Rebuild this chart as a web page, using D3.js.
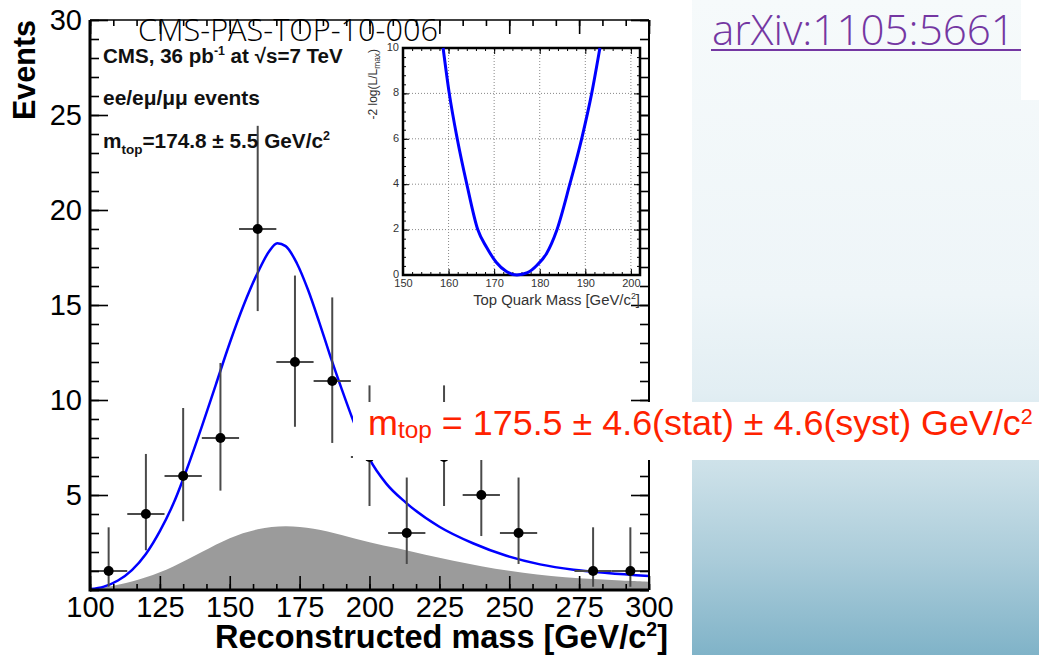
<!DOCTYPE html>
<html><head><meta charset="utf-8">
<script src="https://cdn.jsdelivr.net/npm/d3@7"></script>
<style>body{margin:0;background:#fff}svg{display:block}</style>
</head><body><svg id="c" width="1039" height="655"></svg>
<script>
// ---------- data ----------
const binCenters = [106.67,120,133.33,146.67,160,173.33,186.67,200,213.33,226.67,240,253.33,266.67,280,293.33];
const binWidth = 13.33;
const counts  = [1,4,6,8,19,12,11,7,3,7,5,3,0,1,1];
const errLow  = [0.83,1.91,2.38,2.77,4.32,3.41,3.26,2.58,1.63,2.58,2.16,1.63,0,0.83,0.83];
const errHigh = [2.30,3.16,3.58,3.95,5.43,4.55,4.40,3.77,2.92,3.77,3.38,2.92,0,2.30,2.30];

const fitMass   = [100,105,110,115,120,125,130,135,140,145,150,155,160,164,167,170,174,178,182,186,190,195,200,206,213,225,237,249,261,273,285,300];
const fitEvents = [0.05,0.18,0.5,1.05,1.9,3.1,4.6,6.5,8.6,10.8,13.0,15.0,16.7,17.8,18.25,18.1,17.2,15.8,14.1,12.3,10.6,8.6,6.9,5.6,4.6,3.33,2.46,1.8,1.35,1.07,0.9,0.74];

const bkgMass   = [100,110,120,130,140,150,160,170,180,190,200,210,220,230,240,250,260,270,280,290,300];
const bkgEvents = [0,0.25,0.63,1.22,2.0,2.78,3.25,3.4,3.26,2.9,2.5,2.2,1.85,1.53,1.25,1.0,0.81,0.67,0.57,0.5,0.44];

const scanMass = [158.8,160.15,161.9,164.0,166.4,168.4,170.5,172.7,175.0,177.3,179.5,181.5,183.7,186.6,189.2,191.4,193.2];
const scanNLL  = [10,8,6,4,2,1.2,0.55,0.15,0,0.1,0.45,0.95,1.95,4,6,8,10];

const xTicksMain = [100,125,150,175,200,225,250,275,300];
const yTicksMain = [5,10,15,20,25,30];
const xTicksInset = [150,160,170,180,190,200];
const yTicksInset = [0,2,4,6,8,10];

// ---------- setup ----------
const svg = d3.select("#c");
const defs = svg.append("defs");
const grad = defs.append("linearGradient").attr("id","bg").attr("x1",0).attr("y1",0).attr("x2",0).attr("y2",1);
[[0,"#f6fafb"],[0.45,"#eef5f8"],[0.6,"#e2eef3"],[0.72,"#cbe0e8"],[0.86,"#a9cbd9"],[1,"#80b3c8"]]
  .forEach(s=>grad.append("stop").attr("offset",s[0]).attr("stop-color",s[1]));

svg.append("rect").attr("width",1039).attr("height",655).attr("fill","#fff");
svg.append("rect").attr("x",692).attr("y",0).attr("width",347).attr("height",655).attr("fill","url(#bg)");
svg.append("rect").attr("x",1021).attr("y",0).attr("width",18).attr("height",100).attr("fill","#fff");

const FONT = "'Liberation Sans', Arial, Helvetica, sans-serif";
function fitWidth(t, w){ const cur = t.node().getComputedTextLength(); const fs = parseFloat(t.attr("font-size")); t.attr("font-size", fs*w/cur); }

// ---------- main plot ----------
const x = d3.scaleLinear().domain([100,300]).range([90,649]);
const y = d3.scaleLinear().domain([0,30]).range([590,20]);
const g = svg.append("g");

g.append("path")
  .datum(bkgMass.map((m,i)=>[m,bkgEvents[i]]))
  .attr("d", d3.area().x(d=>x(d[0])).y0(y(0)).y1(d=>y(d[1])).curve(d3.curveBasis))
  .attr("fill","#9b9b9b");

g.append("path")
  .datum(fitMass.map((m,i)=>[m,fitEvents[i]]))
  .attr("d", d3.line().x(d=>x(d[0])).y(d=>y(d[1])).curve(d3.curveMonotoneX))
  .attr("fill","none").attr("stroke","#0000ff").attr("stroke-width",2.5);

const pts = binCenters.map((c,i)=>({c, n:counts[i], lo:errLow[i], hi:errHigh[i]})).filter(d=>d.n>0);
const pg = g.append("g");
pg.selectAll("line.v").data(pts).join("line")
  .attr("x1",d=>x(d.c)).attr("x2",d=>x(d.c))
  .attr("y1",d=>y(d.n-d.lo)).attr("y2",d=>y(d.n+d.hi))
  .attr("stroke","#4a4a4a").attr("stroke-width",2);
pg.selectAll("line.h").data(pts).join("line")
  .attr("x1",d=>x(d.c-binWidth/2)).attr("x2",d=>x(d.c+binWidth/2))
  .attr("y1",d=>y(d.n)).attr("y2",d=>y(d.n))
  .attr("stroke","#4a4a4a").attr("stroke-width",2);
pg.selectAll("circle").data(pts).join("circle")
  .attr("cx",d=>x(d.c)).attr("cy",d=>y(d.n)).attr("r",5).attr("fill","#000");

function styleAxis(sel){ sel.select(".domain").remove(); sel.selectAll("line").attr("stroke","#000").attr("stroke-width",1.6); }
const minorX = d3.range(100,300.01,25/3);
const minorY = d3.range(0,30.01,1);
g.append("g").attr("transform",`translate(0,${y(0)})`)
  .call(d3.axisBottom(x).tickValues(minorX).tickSize(-6).tickFormat("")).call(styleAxis);
g.append("g").attr("transform",`translate(0,${y(0)})`)
  .call(d3.axisBottom(x).tickValues(xTicksMain).tickSize(-14).tickPadding(6).tickFormat(d3.format("d")))
  .call(styleAxis)
  .call(s=>s.selectAll("text").attr("font-family",FONT).attr("font-size",29).attr("fill","#000"));
g.append("g").attr("transform",`translate(0,${y(30)})`)
  .call(d3.axisTop(x).tickValues(minorX).tickSize(-6).tickFormat("")).call(styleAxis);
g.append("g").attr("transform",`translate(0,${y(30)})`)
  .call(d3.axisTop(x).tickValues(xTicksMain).tickSize(-14).tickFormat("")).call(styleAxis);
g.append("g").attr("transform",`translate(${x(100)},0)`)
  .call(d3.axisLeft(y).tickValues(minorY).tickSize(-9).tickFormat("")).call(styleAxis);
g.append("g").attr("transform",`translate(${x(100)},0)`)
  .call(d3.axisLeft(y).tickValues(yTicksMain).tickSize(-18).tickPadding(8).tickFormat(d3.format("d")))
  .call(styleAxis)
  .call(s=>s.selectAll("text").attr("font-family",FONT).attr("font-size",29).attr("fill","#000"));
g.append("g").attr("transform",`translate(${x(300)},0)`)
  .call(d3.axisRight(y).tickValues(minorY).tickSize(-9).tickFormat("")).call(styleAxis);
g.append("g").attr("transform",`translate(${x(300)},0)`)
  .call(d3.axisRight(y).tickValues(yTicksMain).tickSize(-18).tickFormat("")).call(styleAxis);

g.append("line").attr("x1",x(100)).attr("x2",x(300)).attr("y1",y(0)).attr("y2",y(0)).attr("stroke","#000").attr("stroke-width",3);
g.append("line").attr("x1",x(100)).attr("x2",x(100)).attr("y1",y(0)+1.5).attr("y2",y(30)).attr("stroke","#000").attr("stroke-width",3);
g.append("line").attr("x1",x(100)).attr("x2",x(300)).attr("y1",y(30)).attr("y2",y(30)).attr("stroke","#000").attr("stroke-width",1.6);
g.append("line").attr("x1",x(300)).attr("x2",x(300)).attr("y1",y(0)).attr("y2",y(30)).attr("stroke","#000").attr("stroke-width",2);

const ev = svg.append("text").attr("transform","translate(35,20) rotate(-90)").attr("text-anchor","end")
  .attr("font-family",FONT).attr("font-weight","bold").attr("font-size",30).text("Events");
fitWidth(ev, 100);
const xt = svg.append("text").attr("x",668).attr("y",648).attr("text-anchor","end")
  .attr("font-family",FONT).attr("font-weight","bold").attr("font-size",30);
xt.append("tspan").text("Reconstructed mass [GeV/c");
xt.append("tspan").attr("font-size","0.6em").attr("dy",-12).text("2");
xt.append("tspan").attr("dy",12).text("]");
fitWidth(xt, 453);

const lab = svg.append("g").attr("font-family",FONT).attr("font-weight","bold").attr("fill","#111");
const l1 = lab.append("text").attr("x",103).attr("y",63).attr("font-size",19);
l1.append("tspan").text("CMS, 36 pb");
l1.append("tspan").attr("font-size","0.6em").attr("dy",-8).text("-1");
l1.append("tspan").attr("dy",8).text(" at \u221As=7 TeV");
fitWidth(l1, 240);
const l2 = lab.append("text").attr("x",103).attr("y",105).attr("font-size",19).text("ee/e\u03BC/\u03BC\u03BC events");
fitWidth(l2, 157);
const l3 = lab.append("text").attr("x",103).attr("y",148).attr("font-size",19);
l3.append("tspan").text("m");
l3.append("tspan").attr("font-size","0.65em").attr("dy",6).text("top");
l3.append("tspan").attr("dy",-6).text("=174.8 \u00B1 5.5 GeV/c");
l3.append("tspan").attr("font-size","0.6em").attr("dy",-8).text("2");
fitWidth(l3, 227);

// ---------- inset ----------
const xi = d3.scaleLinear().domain([150,202]).range([403,640]);
const yi = d3.scaleLinear().domain([0,10]).range([275,48]);
const gi = svg.append("g");
gi.append("rect").attr("x",xi(150)).attr("y",yi(10)).attr("width",xi(202)-xi(150)).attr("height",yi(0)-yi(10)).attr("fill","#fff");
gi.selectAll("line.gx").data(xTicksInset.slice(1)).join("line")
  .attr("x1",d=>xi(d)).attr("x2",d=>xi(d)).attr("y1",yi(0)).attr("y2",yi(10))
  .attr("stroke","#888").attr("stroke-width",1).attr("stroke-dasharray","1,2");
gi.selectAll("line.gy").data(yTicksInset.slice(1,-1)).join("line")
  .attr("x1",xi(150)).attr("x2",xi(202)).attr("y1",d=>yi(d)).attr("y2",d=>yi(d))
  .attr("stroke","#888").attr("stroke-width",1).attr("stroke-dasharray","1,2");
function styleInset(sel){ sel.select(".domain").remove(); sel.selectAll("line").attr("stroke","#000").attr("stroke-width",1); }
const minorXi = d3.range(150,202.01,2);
const minorYi = d3.range(0,10.01,0.4);
gi.append("g").attr("transform",`translate(0,${yi(0)})`).call(d3.axisBottom(xi).tickValues(minorXi).tickSize(-3).tickFormat("")).call(styleInset);
gi.append("g").attr("transform",`translate(0,${yi(0)})`).call(d3.axisBottom(xi).tickValues(xTicksInset).tickSize(-6).tickPadding(4).tickFormat(d3.format("d")))
  .call(styleInset).call(s=>s.selectAll("text").attr("font-family",FONT).attr("font-size",11).attr("fill","#333"));
gi.append("g").attr("transform",`translate(0,${yi(10)})`).call(d3.axisTop(xi).tickValues(minorXi).tickSize(-3).tickFormat("")).call(styleInset);
gi.append("g").attr("transform",`translate(0,${yi(10)})`).call(d3.axisTop(xi).tickValues(xTicksInset).tickSize(-6).tickFormat("")).call(styleInset);
gi.append("g").attr("transform",`translate(${xi(150)},0)`).call(d3.axisLeft(yi).tickValues(minorYi).tickSize(-3).tickFormat("")).call(styleInset);
gi.append("g").attr("transform",`translate(${xi(150)},0)`).call(d3.axisLeft(yi).tickValues(yTicksInset).tickSize(-6).tickPadding(4).tickFormat(d3.format("d")))
  .call(styleInset).call(s=>s.selectAll("text").attr("font-family",FONT).attr("font-size",11).attr("fill","#333").attr("dy","0.2em"));
gi.append("g").attr("transform",`translate(${xi(202)},0)`).call(d3.axisRight(yi).tickValues(minorYi).tickSize(-3).tickFormat("")).call(styleInset);
gi.append("g").attr("transform",`translate(${xi(202)},0)`).call(d3.axisRight(yi).tickValues(yTicksInset).tickSize(-6).tickFormat("")).call(styleInset);
gi.append("rect").attr("x",xi(150)).attr("y",yi(10)).attr("width",xi(202)-xi(150)).attr("height",yi(0)-yi(10))
  .attr("fill","none").attr("stroke","#000").attr("stroke-width",2.5);
gi.append("path").datum(scanMass.map((m,i)=>[m,scanNLL[i]]))
  .attr("d", d3.line().x(d=>xi(d[0])).y(d=>yi(d[1])).curve(d3.curveMonotoneX))
  .attr("fill","none").attr("stroke","#0000ff").attr("stroke-width",3);
const yti = svg.append("text").attr("transform","translate(377,49) rotate(-90)").attr("text-anchor","end")
  .attr("font-family",FONT).attr("font-size",12).attr("fill","#333");
yti.append("tspan").text("-2 log(L/L");
yti.append("tspan").attr("font-size","0.7em").attr("dy",3).text("max");
yti.append("tspan").attr("dy",-3).text(")");
const xti = svg.append("text").attr("x",640).attr("y",305).attr("text-anchor","end")
  .attr("font-family",FONT).attr("font-size",14).attr("fill","#333");
xti.append("tspan").text("Top Quark Mass [GeV/c");
xti.append("tspan").attr("font-size","0.6em").attr("dy",-6).text("2");
xti.append("tspan").attr("dy",6).text("]");
fitWidth(xti, 167);

// ---------- overlays ----------
svg.append("rect").attr("x",353).attr("y",402).attr("width",686).attr("height",58).attr("fill","#fff");
const red = svg.append("text").attr("x",368).attr("y",435).attr("font-family",FONT).attr("font-size",35).attr("fill","#ff2200");
red.append("tspan").text("m");
red.append("tspan").attr("font-size","0.68em").attr("dy",3).text("top");
red.append("tspan").attr("dy",-3).text(" = 175.5 \u00B1 4.6(stat) \u00B1 4.6(syst) GeV/c");
red.append("tspan").attr("font-size","0.6em").attr("dy",-11).text("2");
fitWidth(red, 665);

const title = svg.append("text").attr("x",138).attr("y",40.5).attr("font-family","'Open Sans', Lato, sans-serif")
  .attr("font-weight",300).attr("font-size",28).attr("fill","#000").text("CMS-PAS-TOP-10-006");
fitWidth(title, 300);

const arx = svg.append("text").attr("x",712).attr("y",45).attr("font-family","'Open Sans', Lato, sans-serif")
  .attr("font-weight",300).attr("font-size",38).attr("fill","#7437a2").text("arXiv:1105:5661");
fitWidth(arx, 303);
svg.append("line").attr("x1",711).attr("x2",1021).attr("y1",50).attr("y2",50).attr("stroke","#7437a2").attr("stroke-width",2);
</script></body></html>
